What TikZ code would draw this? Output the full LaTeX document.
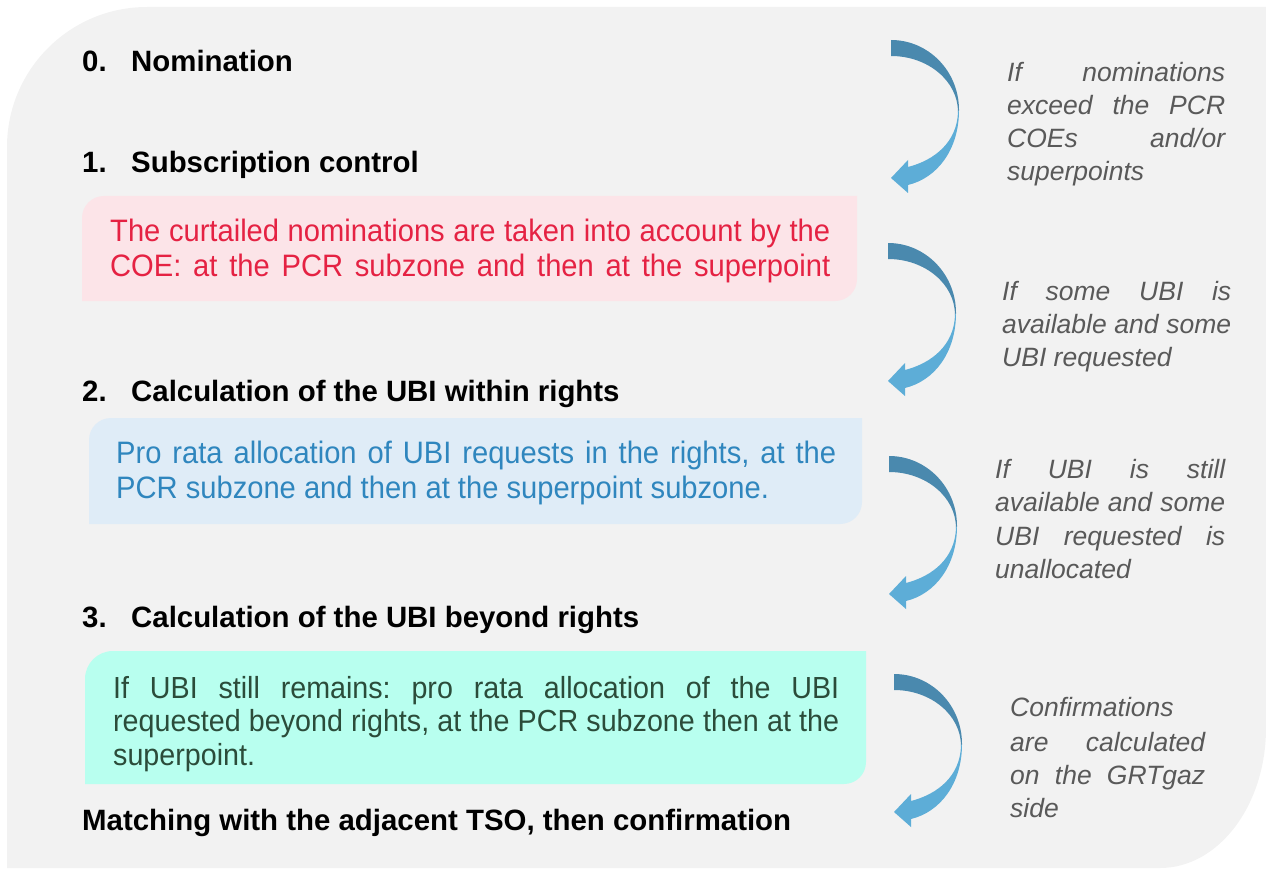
\documentclass[tikz,border=0pt]{standalone}
\usepackage{fontspec}
\setmainfont{Liberation Sans}
\newfontfamily\boxfont[FakeStretch=0.94]{Liberation Sans}
\frenchspacing
\definecolor{bgc}{HTML}{F2F2F2}
\definecolor{redfill}{HTML}{FCE4E8}
\definecolor{redtext}{HTML}{E52243}
\definecolor{bluefill}{HTML}{DFECF7}
\definecolor{bluetext}{HTML}{2F86BE}
\definecolor{greenfill}{HTML}{B8FFEF}
\definecolor{greentext}{HTML}{2B4C3A}
\definecolor{notetext}{HTML}{595959}
\definecolor{arrdark}{HTML}{4A89AE}
\definecolor{arrlight}{HTML}{5DADD7}
\newcommand\jline[2]{\makebox[#1][s]{#2}}
\newcommand\lline[2]{\makebox[#1][l]{#2}}
\newcommand\curvarrow[1]{%
  \begin{scope}[shift={#1}]
    \fill[arrdark] (0,0) .. controls (37.6,0) and (68,31.3) .. (68,70)
      -- (67,72) .. controls (67,41.1) and (37,16) .. (0,16) -- cycle;
    \fill[arrlight] (68,70) .. controls (68,110) and (46,138) .. (17,145)
      -- (17,153) -- (0,138) -- (17,120) -- (17,127)
      .. controls (44,120) and (66,102) .. (67,72) -- cycle;
  \end{scope}}
\tikzset{
  head/.style={anchor=base west, inner sep=0pt, font=\bfseries\fontsize{29.4}{35}\selectfont},
  boxtxt/.style={anchor=base west, inner sep=0pt, font=\boxfont\fontsize{31}{36}\selectfont},
  greentxt/.style={anchor=base west, inner sep=0pt, text=greentext, font=\boxfont\fontsize{30.5}{34}\selectfont},
  note/.style={anchor=base west, inner sep=0pt, text=notetext, font=\itshape\fontsize{26.5}{33}\selectfont}
}
\begin{document}
\begin{tikzpicture}[x=1pt,y=-1pt]
\path[use as bounding box] (0,0) rectangle (1266,869);
% background
\fill[bgc] (7,868) -- (7,147) .. controls (7,69.7) and (69.7,7) .. (147,7)
  -- (1266,7) -- (1266,728) .. controls (1266,805.3) and (1218.5,868) .. (1160,868) -- cycle;
% coloured boxes
\fill[redfill] (82,301) -- (82,218) .. controls (82,205.8) and (91.8,196) .. (104,196)
  -- (857,196) -- (857,279) .. controls (857,291.2) and (847.2,301) .. (835,301) -- cycle;
\fill[bluefill] (89,524) -- (89,440) .. controls (89,427.8) and (98.8,418) .. (111,418)
  -- (862,418) -- (862,502) .. controls (862,514.2) and (852.2,524) .. (840,524) -- cycle;
\fill[greenfill] (85,784) -- (85,679) .. controls (85,663.5) and (97.5,651) .. (113,651)
  -- (866,651) -- (866,762) .. controls (866,774.2) and (856.2,784) .. (844,784) -- cycle;
% headings
\node[head] (h0) at (82,72) {\lline{49pt}{0.}Nomination};
\node[head] (h1) at (82,173) {\lline{49pt}{1.}Subscription control};
\node[head] (h2) at (82,401) {\lline{49pt}{2.}Calculation of the UBI within rights};
\node[head] (h3) at (82,627) {\lline{49pt}{3.}Calculation of the UBI beyond rights};
\node[head] (h4) at (82,830) {Matching with the adjacent TSO, then confirmation};
% red box text
\node[boxtxt, text=redtext] (r1) at (110,241.5) {\jline{720pt}{The curtailed nominations are taken into account by the}};
\node[boxtxt, text=redtext] (r2) at (110,276.5) {\jline{720pt}{COE: at the PCR subzone and then at the superpoint}};
% blue box text
\node[boxtxt, text=bluetext] (b1) at (116,463) {\jline{720pt}{Pro rata allocation of UBI requests in the rights, at the}};
\node[boxtxt, text=bluetext] (b2) at (116,498) {PCR subzone and then at the superpoint subzone.};
% green box text
\node[greentxt] (g1) at (113,698) {\jline{726pt}{If UBI still remains: pro rata allocation of the UBI}};
\node[greentxt] (g2) at (113,731.5) {\jline{726pt}{requested beyond rights, at the PCR subzone then at the}};
\node[greentxt] (g3) at (113,765) {superpoint.};
% curved arrows
\curvarrow{(891,40)}
\curvarrow{(888,243)}
\curvarrow{(889,456)}
\curvarrow{(894,674)}
% notes
\node[note] (n1a) at (1007,82) {\jline{218pt}{If nominations}};
\node[note] (n1b) at (1007,115) {\jline{218pt}{exceed the PCR}};
\node[note] (n1c) at (1007,148) {\jline{218pt}{COEs and/or}};
\node[note] (n1d) at (1007,181) {superpoints};
\node[note] (n2a) at (1002,300) {\jline{229pt}{If some UBI is}};
\node[note] (n2b) at (1002,333) {\jline{229pt}{available and some}};
\node[note] (n2c) at (1002,366) {UBI requested};
\node[note] (n3a) at (995,478) {\jline{230pt}{If UBI is still}};
\node[note] (n3b) at (995,511) {\jline{230pt}{available and some}};
\node[note] (n3c) at (995,545) {\jline{230pt}{UBI requested is}};
\node[note] (n3d) at (995,578) {unallocated};
\node[note] (n4a) at (1010,716) {Confirmations};
\node[note] (n4b) at (1010,751) {\jline{195pt}{are calculated}};
\node[note] (n4c) at (1010,784) {\jline{195pt}{on the GRTgaz}};
\node[note] (n4d) at (1010,817) {side};
\end{tikzpicture}
\end{document}
